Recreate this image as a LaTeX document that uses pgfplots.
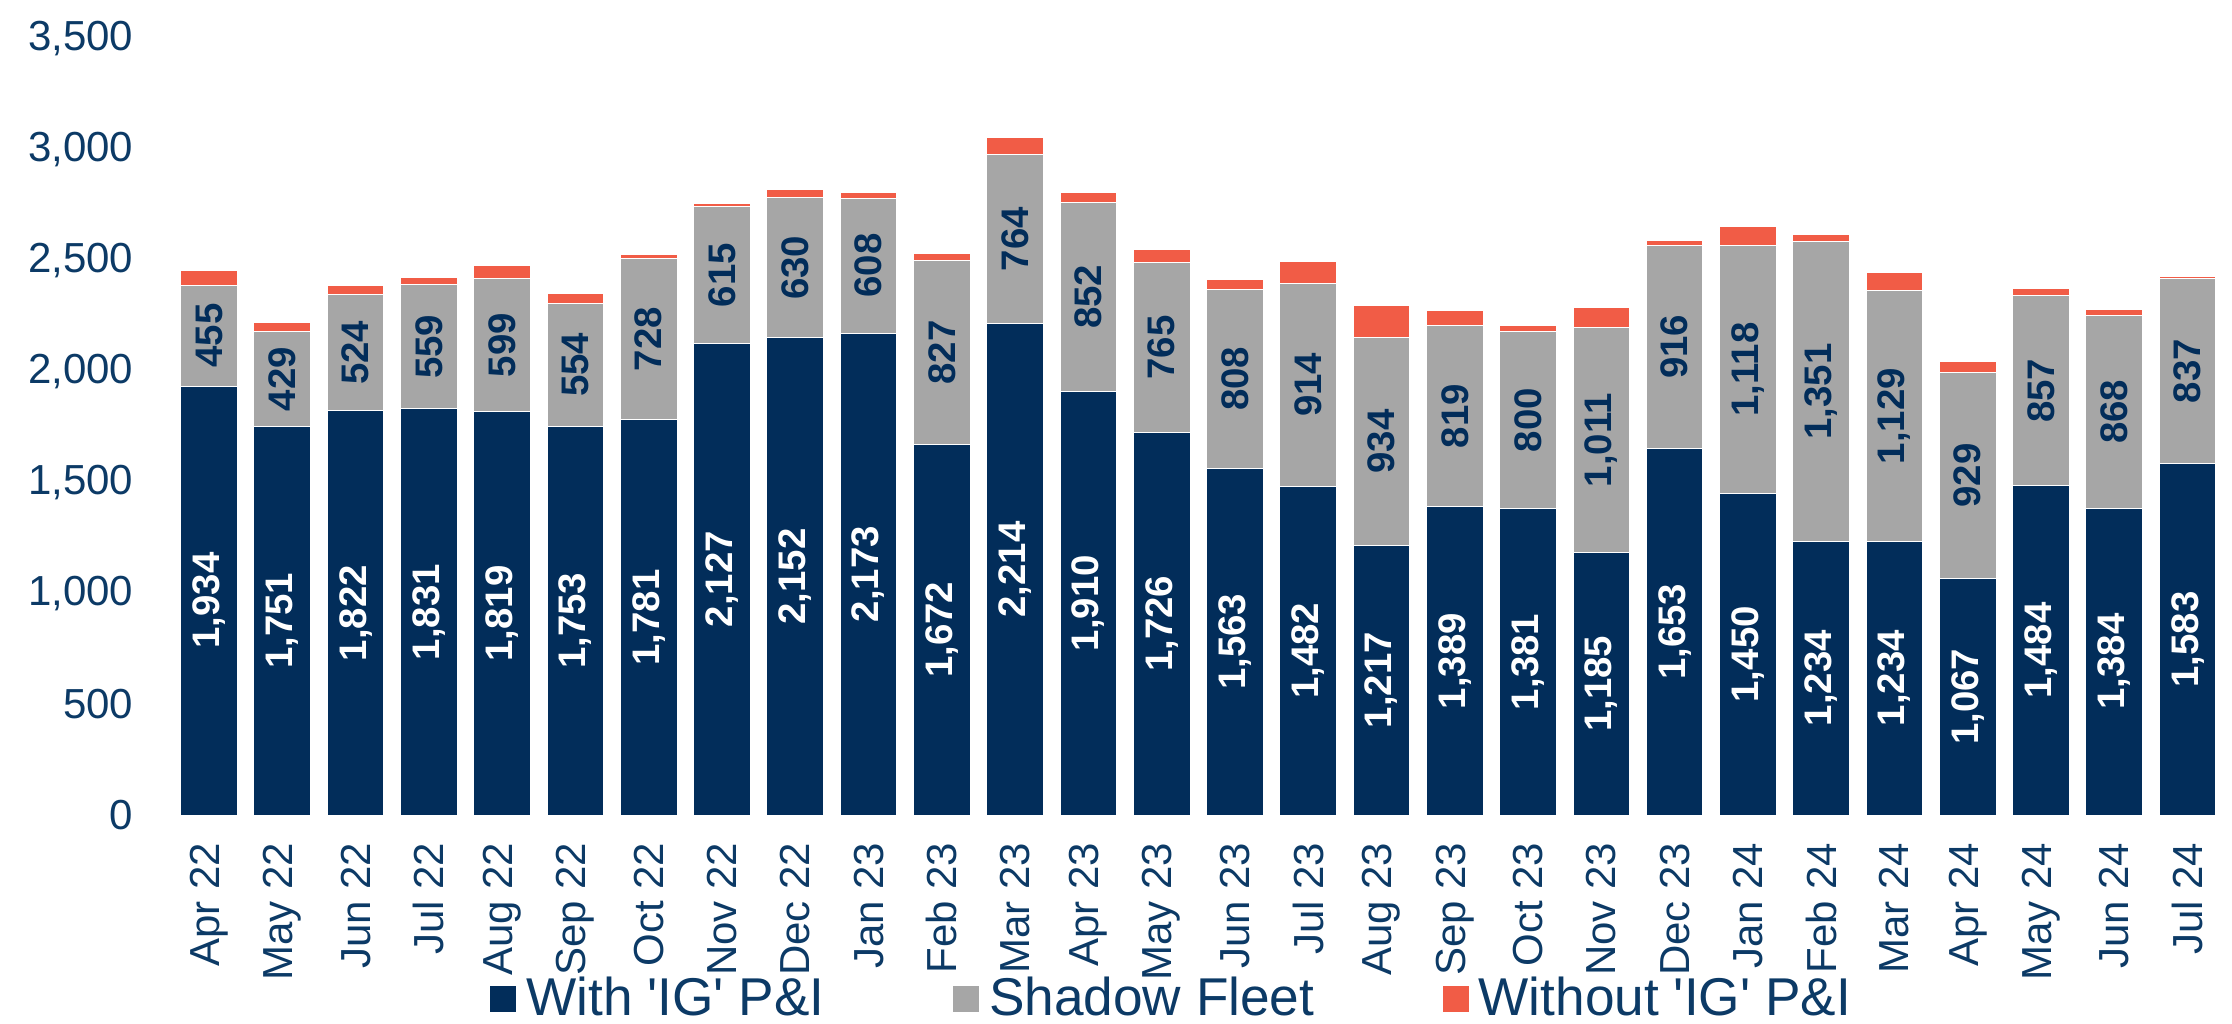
\documentclass[border=0pt]{standalone}
\usepackage{fontspec}
\setmainfont{Liberation Sans}
\usepackage{pgfplots}
\usepackage{pgfplotstable}
\pgfplotsset{compat=1.18}

\definecolor{cNavy}{RGB}{2,45,90}
\definecolor{cGray}{RGB}{166,166,166}
\definecolor{cOrange}{RGB}{241,92,70}
\definecolor{cText}{RGB}{12,58,102}

% x navy(with IG P&I) gray(shadow fleet) orange(without IG P&I)
\pgfplotstableread{
x navy gray orange
0  1934 455  65
1  1751 429  42
2  1822 524  39
3  1831 559  35
4  1819 599  59
5  1753 554  42
6  1781 728  20
7  2127 615  15
8  2152 630  39
9  2173 608  26
10 1672 827  32
11 2214 764  77
12 1910 852  45
13 1726 765  59
14 1563 808  45
15 1482 914  101
16 1217 934  147
17 1389 819  68
18 1381 800  26
19 1185 1011 92
20 1653 916  23
21 1450 1118 86
22 1234 1351 32
23 1234 1129 82
24 1067 929  47
25 1484 857  33
26 1384 868  26
27 1583 837  6
}\shipdata

\pgfplotsset{
  segbar/.style={ybar, bar width=14.17pt, bar shift=0pt, draw=white, line width=0.25pt,
    legend image code/.code={\fill[##1] (0pt,-3.375pt) rectangle (6.75pt,3.375pt);}},
  seglabel/.style={forget plot, draw=none, mark=none, nodes near coords, point meta=explicit,
    nodes near coords={\pgfmathprintnumber[fixed,precision=0,1000 sep={,},assume math mode=true]{\pgfplotspointmeta}},
    every node near coord/.append style={rotate=90, anchor=center, inner sep=0pt,
      font=\fontsize{9.6}{10}\selectfont\bfseries, text=#1}},
}

\begin{document}
\begin{tikzpicture}
\useasboundingbox (-43.1pt,-52.2pt) rectangle (514.9pt,203.8pt);
\begin{axis}[
    at={(0pt,0pt)}, anchor=south west,
    scale only axis, width=512.96pt, height=203.8pt,
    xmin=-0.5, xmax=27.5, ymin=0, ymax=3674,
    axis line style={draw=none}, major tick length=0pt,
    xtick={0,...,27},
    xticklabels={Apr 22,May 22,Jun 22,Jul 22,Aug 22,Sep 22,Oct 22,Nov 22,Dec 22,Jan 23,Feb 23,Mar 23,Apr 23,May 23,Jun 23,Jul 23,Aug 23,Sep 23,Oct 23,Nov 23,Dec 23,Jan 24,Feb 24,Mar 24,Apr 24,May 24,Jun 24,Jul 24},
    ytick={0,500,...,3500},
    scaled y ticks=false,
    tick label style={font=\fontsize{10.5}{12}\selectfont, text=cText},
    yticklabel style={inner sep=0pt, /pgf/number format/fixed, /pgf/number format/1000 sep={,}, /pgf/number format/assume math mode=true},
    xticklabel style={rotate=90, anchor=east, inner sep=0pt},
    xticklabel shift=6.7pt,
    yticklabel shift=9.6pt,
    legend columns=3,
    reverse legend,
    legend style={at={(0.4885,-0.2260)}, anchor=center, draw=none, fill=none,
      font=\fontsize{13.3}{15}\selectfont, text=cText,
      nodes={inner sep=2.3pt},
      /tikz/every even column/.append style={column sep=29.5pt}},
]
\addplot[segbar, fill=cOrange] table[x=x, y expr=\thisrow{navy}+\thisrow{gray}+\thisrow{orange}] {\shipdata};
\addlegendentry{Without \textquotesingle IG\textquotesingle{} P\&I}
\addplot[segbar, fill=cGray] table[x=x, y expr=\thisrow{navy}+\thisrow{gray}] {\shipdata};
\addlegendentry{Shadow Fleet}
\addplot[segbar, fill=cNavy] table[x=x, y=navy] {\shipdata};
\addlegendentry{With \textquotesingle IG\textquotesingle{} P\&I}

\addplot[seglabel=white] table[x=x, y expr=\thisrow{navy}/2, meta=navy] {\shipdata};
\addplot[seglabel=cNavy] table[x=x, y expr=\thisrow{navy}+\thisrow{gray}/2, meta=gray] {\shipdata};
\end{axis}
\end{tikzpicture}
\end{document}
